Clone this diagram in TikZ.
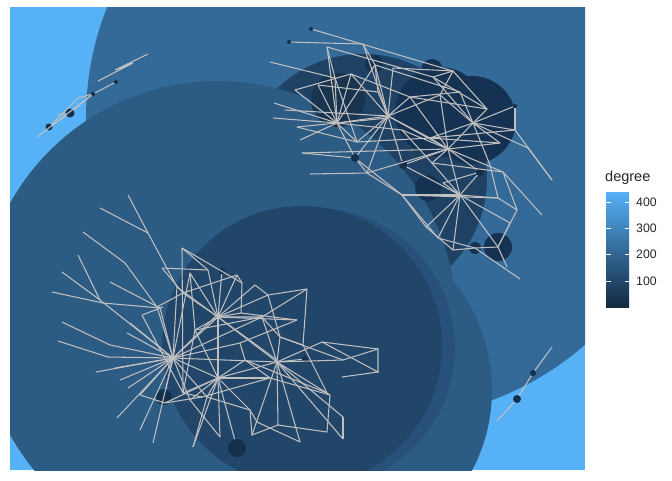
\documentclass[tikz,border=0pt]{standalone}
\usepackage{fontspec}
\setmainfont{Liberation Sans}
\definecolor{bgl}{HTML}{56B1F7}
\definecolor{cA}{HTML}{336A98}
\definecolor{cB}{HTML}{2C5B84}
\definecolor{cE}{HTML}{27507A}
\definecolor{cD}{HTML}{22466A}
\definecolor{cF}{HTML}{1F4163}
\definecolor{cG}{HTML}{163252}
\definecolor{cH}{HTML}{18344F}
\definecolor{cN}{HTML}{15304C}
\definecolor{cL}{HTML}{132B43}
\definecolor{edg}{HTML}{C0C0C0}
\tikzset{
  bignode/.style={fill=#1,draw=none},
  nd/.style={circle,fill=cN,draw=none,inner sep=0pt,minimum size=#1},
  ed/.style={draw=edg,line width=1.05pt},
  tickw/.style={draw=white,line width=0.8pt},
  lab/.style={anchor=west,font=\fontsize{12.3}{13}\selectfont,text=black!85,inner sep=0pt}
}
\begin{document}
\begin{tikzpicture}[x=1pt,y=-1pt]
\useasboundingbox (0,0) rectangle (672,480);
\fill[white] (0,0) rectangle (672,480);
\begin{scope}
\clip (10,7) rectangle (585,470);
\fill[bgl] (10,7) rectangle (585,470);
% large node discs
\fill[bignode=cA] (387,118) circle (301);
\fill[bignode=cF] (363,178) circle (124);
\fill[bignode=cB] (218,319) circle (238);
\fill[bignode=cB] (320,390) circle (172);
\fill[bignode=cE] (315,348) circle (140);
\fill[bignode=cD] (302,346) circle (140);
% upper cluster discs
\fill[bignode=cH] (338,100) circle (27);
\fill[bignode=cG] (440,112) circle (45);
\fill[bignode=cG] (472,120) circle (44);
\fill[bignode=cG] (432,70) circle (11);
\fill[bignode=cG] (374,64) circle (9);
\fill[bignode=cG] (428,188) circle (13);
\fill[bignode=cG] (498,247) circle (14);
\fill[bignode=cG] (475,248) circle (6);
\end{scope}
% small node dots
\node[nd=8pt] (n1) at (355,158) {};
\node[nd=8pt] (n2) at (403,165) {};
\node[nd=8pt] (n3) at (480,172) {};
\node[nd=4pt] (n4) at (515,106) {};
\node[nd=4pt] (a) at (311,29) {};
\node[nd=4pt] (b) at (289,42) {};
\node[nd=16pt] (n5) at (164,397) {};
\node[nd=18pt] (n6) at (237,448) {};
\node[nd=6pt] (n7) at (222,271) {};
\node[nd=6pt] (n8) at (305,359) {};
\node[nd=9pt] (s1) at (70,113) {};
\node[nd=7pt] (s2) at (49,127) {};
\node[nd=4pt] (s3) at (93,94) {};
\node[nd=4pt] (s4) at (116,82) {};
\node[nd=8pt] (r1) at (517,399) {};
\node[nd=6pt] (r2) at (533,373) {};
% coordinates: upper cluster
\coordinate (U1) at (337,123);
\coordinate (U2) at (388,116);
\coordinate (U3) at (473,123);
\coordinate (U4) at (448,149);
\coordinate (U5) at (460,195);
\coordinate (c) at (327,47);
\coordinate (d) at (363,44);
\coordinate (e) at (453,71);
\coordinate (f) at (433,77);
\coordinate (g) at (375,65);
\coordinate (h) at (351,74);
\coordinate (i) at (335,78);
\coordinate (j) at (295,90);
\coordinate (k) at (270,62);
\coordinate (l) at (274,103);
\coordinate (m) at (273,118);
\coordinate (n) at (297,127);
\coordinate (o) at (302,153);
\coordinate (p) at (310,174);
\coordinate (r) at (367,173);
\coordinate (s) at (402,195);
\coordinate (t) at (426,227);
\coordinate (u) at (438,238);
\coordinate (v) at (453,250);
\coordinate (y) at (510,223);
\coordinate (z) at (517,210);
\coordinate (aa) at (498,198);
\coordinate (ab) at (503,172);
\coordinate (ac) at (490,165);
\coordinate (ae) at (528,148);
\coordinate (af) at (552,180);
\coordinate (ag) at (542,215);
\coordinate (ai) at (515,130);
\coordinate (aj) at (500,143);
\coordinate (ak) at (487,109);
\coordinate (al) at (430,138);
\coordinate (am) at (432,163);
\coordinate (ao) at (357,142);
\coordinate (ap) at (393,68);
\coordinate (aq) at (410,97);
\coordinate (ar) at (440,95);
\coordinate (as) at (460,92);
\coordinate (at) at (507,267);
\coordinate (au) at (443,183);
\coordinate (w) at (498,247);
\coordinate (x) at (475,248);
\coordinate (q1) at (318,85);
\coordinate (q2) at (402,130);
\coordinate (q3) at (378,92);
\coordinate (q4) at (300,140);
\coordinate (q5) at (285,110);
% upper edges
\draw[ed] (a) -- (e);
\draw[ed] (b) -- (d) -- (U2);
\draw[ed] (c) -- (U1);
\draw[ed] (c) -- (f);
\draw[ed] (c) -- (i);
\draw[ed] (d) -- (g);
\draw[ed] (e) -- (f);
\draw[ed] (e) -- (ak);
\draw[ed] (e) -- (ar) -- (U4);
\draw[ed] (k) -- (i) -- (U1);
\draw[ed] (j) -- (h) -- (U2);
\draw[ed] (j) -- (U1);
\draw[ed] (l) -- (U1);
\draw[ed] (m) -- (U1);
\draw[ed] (n) -- (U1);
\draw[ed] (q4) -- (U1);
\draw[ed] (q5) -- (U2);
\draw[ed] (o) -- (U4);
\draw[ed] (p) -- (r) -- (s);
\draw[ed] (U1) -- (U2);
\draw[ed] (U1) -- ([yshift=-2]U2);
\draw[ed] (U1) -- (h);
\draw[ed] (U1) -- (g);
\draw[ed] (U1) -- (ao);
\draw[ed] (U1) -- (q1);
\draw[ed] (U1) -- (n1);
\draw[ed] (U1) -- (q2);
\draw[ed] (q1) -- (q3) -- (U2);
\draw[ed] (U2) -- (g);
\draw[ed] (U2) -- (ap);
\draw[ed] (U2) -- (aq);
\draw[ed] (U2) -- (ao);
\draw[ed] (U2) -- (n1);
\draw[ed] (U2) -- (n2);
\draw[ed] (U2) -- (al);
\draw[ed] (U2) -- (U4);
\draw[ed] (U2) -- (ar);
\draw[ed] (U2) -- (r);
\draw[ed] (ap) -- (e);
\draw[ed] (g) -- (q3);
\draw[ed] (g) -- (as);
\draw[ed] (h) -- (aq);
\draw[ed] (i) -- (ao);
\draw[ed] (aq) -- (as);
\draw[ed] (aq) -- (ak);
\draw[ed] (U3) -- (ak);
\draw[ed] (U3) -- (n4);
\draw[ed] (U3) -- (ai);
\draw[ed] (U3) -- (aj);
\draw[ed] (U3) -- (ae);
\draw[ed] (U3) -- (as);
\draw[ed] (U3) -- (ar);
\draw[ed] (U3) -- (U4);
\draw[ed] (U3) -- (ac);
\draw[ed] (U3) -- (f);
\draw[ed] (U3) -- (al);
\draw[ed] (al) -- (ai);
\draw[ed] (ao) -- (al);
\draw[ed] (al) -- (aj);
\draw[ed] (U4) -- (al);
\draw[ed] (U4) -- (am);
\draw[ed] (U4) -- (aq);
\draw[ed] (U4) -- (ab);
\draw[ed] (U4) -- (n3);
\draw[ed] (U4) -- (U5);
\draw[ed] (U4) -- (n2);
\draw[ed] (U4) -- (aj);
\draw[ed] (U4) -- (q2);
\draw[ed] (U4) -- (r);
\draw[ed] (U5) -- (s);
\draw[ed] (U5) -- (t);
\draw[ed] (U5) -- (u);
\draw[ed] (U5) -- (au);
\draw[ed] (U5) -- (aa);
\draw[ed] (U5) -- (y);
\draw[ed] (U5) -- (w);
\draw[ed] (U5) -- (v);
\draw[ed] (U5) -- (n3);
\draw[ed] (U5) -- (am);
\draw[ed] (s) -- (aa);
\draw[ed] (s) -- (t) -- (v);
\draw[ed] (s) -- (u) -- (x);
\draw[ed] (n1) -- (s);
\draw[ed] (n2) -- (U5);
\draw[ed] (q2) -- (am) -- (ab);
\draw[ed] (au) -- (n3);
\draw[ed] (ae) -- (af);
\draw[ed] (ai) -- (af);
\draw[ed] (ab) -- (ag);
\draw[ed] (n4) -- (ai);
\draw[ed] (w) -- (x);
\draw[ed] (w) -- (at);
\draw[ed] (w) -- (y);
\draw[ed] (x) -- (v);
\draw[ed] (w) -- (z) -- (ab);
\draw[ed] (aa) -- (z);
\draw[ed] (ac) -- (aa);
\draw[ed] (o) -- (n1) -- (r);
\draw[ed] (n) -- (ao);
\draw[ed] (f) -- (ak);
% lower cluster
\coordinate (H1) at (173,358);
\coordinate (H2) at (218,317);
\coordinate (H3) at (218,378);
\coordinate (H4) at (277,362);
\coordinate (L1) at (58,341);
\coordinate (L2) at (108,357);
\coordinate (L3) at (62,322);
\coordinate (L4) at (110,345);
\coordinate (L5) at (52,292);
\coordinate (L6) at (103,303);
\coordinate (L7) at (160,308);
\coordinate (L8) at (62,272);
\coordinate (L9) at (100,300);
\coordinate (L10) at (78,255);
\coordinate (L11) at (83,232);
\coordinate (L12) at (125,263);
\coordinate (L13) at (157,307);
\coordinate (L14) at (100,208);
\coordinate (L15) at (148,233);
\coordinate (L16) at (128,195);
\coordinate (L17) at (177,287);
\coordinate (L18) at (110,282);
\coordinate (L19) at (162,268);
\coordinate (L20) at (183,293);
\coordinate (L21) at (117,418);
\coordinate (L22) at (153,443);
\coordinate (L23) at (193,447);
\coordinate (L24) at (207,397);
\coordinate (L25) at (115,368);
\coordinate (L26) at (120,380);
\coordinate (L27) at (128,388);
\coordinate (L28) at (127,333);
\coordinate (L29) at (130,323);
\coordinate (L30) at (140,395);
\coordinate (L31) at (165,403);
\coordinate (L32) at (182,248);
\coordinate (L33) at (242,283);
\coordinate (L34) at (241,313);
\coordinate (L35) at (183,393);
\coordinate (L36) at (96,372);
\coordinate (L37) at (140,430);
\coordinate (M1) at (255,285);
\coordinate (M2) at (268,295);
\coordinate (M3) at (237,275);
\coordinate (M4) at (208,270);
\coordinate (M5) at (190,273);
\coordinate (M6) at (262,317);
\coordinate (M7) at (297,320);
\coordinate (M8) at (307,289);
\coordinate (M9) at (220,437);
\coordinate (M10) at (270,378);
\coordinate (M11) at (250,410);
\coordinate (M12) at (190,400);
\coordinate (P1) at (343,360);
\coordinate (P2) at (322,342);
\coordinate (P3) at (378,349);
\coordinate (P4) at (343,417);
\coordinate (P5) at (343,439);
\coordinate (P6) at (330,395);
\coordinate (P7) at (300,442);
\coordinate (P8) at (278,425);
\coordinate (P9) at (252,435);
\coordinate (P10) at (378,372);
\coordinate (P11) at (342,377);
\coordinate (P12) at (327,432);
\coordinate (P13) at (280,337);
\coordinate (P14) at (303,345);
\coordinate (P15) at (327,393);
\coordinate (P16) at (257,422);
\coordinate (P17) at (142,315);
\coordinate (P18) at (163,307);
\coordinate (P19) at (202,397);
\coordinate (P20) at (240,343);
\coordinate (P21) at (195,330);
\coordinate (P22) at (245,360);
\draw[ed] (L1) -- (L2) -- (H1);
\draw[ed] (L3) -- (L4) -- (H1);
\draw[ed] (L5) -- (L6) -- (L7);
\draw[ed] (L8) -- (L9);
\draw[ed] (L10) -- (L9) -- (H1);
\draw[ed] (L11) -- (L12) -- (L13) -- (H1);
\draw[ed] (L14) -- (L15);
\draw[ed] (L16) -- (L15) -- (L17) -- (H1);
\draw[ed] (L18) -- (L7) -- (H1);
\draw[ed] (L19) -- (L20) -- (H2);
\draw[ed] (L21) -- (H1);
\draw[ed] (L22) -- (H1);
\draw[ed] (L23) -- (L24);
\draw[ed] (L25) -- (H1);
\draw[ed] (L26) -- (H1);
\draw[ed] (L27) -- (H1);
\draw[ed] (L28) -- (H1);
\draw[ed] (L29) -- (H1);
\draw[ed] (L36) -- (H1);
\draw[ed] (L37) -- (H1);
\draw[ed] (L30) -- (H1);
\draw[ed] (L30) -- (L31) -- (P19);
\draw[ed] (L31) -- (H3);
\draw[ed] (L32) -- (L33) -- (L34);
\draw[ed] (L32) -- (L35);
\draw[ed] (L32) -- (M4);
\draw[ed] (L20) -- (M3);
\draw[ed] (L13) -- (L20);
\draw[ed] (L19) -- (M4);
\draw[ed] (n5) -- (H1);
\draw[ed] (H1) -- (H2);
\draw[ed] (H1) -- ([yshift=3]H2);
\draw[ed] (H1) -- (H3);
\draw[ed] (H1) -- (H4);
\draw[ed] (H1) -- (M6);
\draw[ed] (H1) -- (M5);
\draw[ed] (H1) -- (M12);
\draw[ed] (H1) -- (P20);
\draw[ed] (H1) -- (L24);
\draw[ed] (H2) -- (H3);
\draw[ed] (H2) -- (H4);
\draw[ed] (H2) -- ([yshift=2]H4);
\draw[ed] (H3) -- (H4);
\draw[ed] (H2) -- (M1);
\draw[ed] (H2) -- (M2);
\draw[ed] (H2) -- (M3);
\draw[ed] (H2) -- (M4);
\draw[ed] (H2) -- (M5);
\draw[ed] (H2) -- (L17);
\draw[ed] (H2) -- (M6) -- (M8);
\draw[ed] (H2) -- (M7);
\draw[ed] (H2) -- (n7);
\draw[ed] (H2) -- (P21);
\draw[ed] (H2) -- (L34);
\draw[ed] (H3) -- (M9);
\draw[ed] (H3) -- (L24);
\draw[ed] (H3) -- (n6);
\draw[ed] (H3) -- (M10);
\draw[ed] (H3) -- (M11);
\draw[ed] (H3) -- (M12);
\draw[ed] (H3) -- (L23);
\draw[ed] (H3) -- (P21);
\draw[ed] (H3) -- (P22);
\draw[ed] (H3) -- (L35);
\draw[ed] (H4) -- (P1);
\draw[ed] (H4) -- (P2) -- (P3);
\draw[ed] (H4) -- (P4);
\draw[ed] (H4) -- (P5);
\draw[ed] (H4) -- (P6);
\draw[ed] (H4) -- (P7);
\draw[ed] (H4) -- (P8);
\draw[ed] (H4) -- (P9);
\draw[ed] (H4) -- (P13);
\draw[ed] (H4) -- (M6);
\draw[ed] (H4) -- (n8);
\draw[ed] (M5) -- (P21) -- (M6);
\draw[ed] (P21) -- (L35);
\draw[ed] (L34) -- (M7);
\draw[ed] (M6) -- (P13) -- (P14);
\draw[ed] (P14) -- (M8);
\draw[ed] (P20) -- (P22) -- (M10) -- (P6);
\draw[ed] (M12) -- (M9);
\draw[ed] (L24) -- (M11) -- (P9) -- (P8);
\draw[ed] (P17) -- (L35);
\draw[ed] (M1) -- (M2) -- (M8);
\draw[ed] (P19) -- (M10);
\draw[ed] (P4) -- (P5);
\draw[ed] (P1) -- (P3) -- (P10);
\draw[ed] (P11) -- (P10) -- (P2);
\draw[ed] (P12) -- (P6);
\draw[ed] (P14) -- (P15);
\draw[ed] (P16) -- (P7);
\draw[ed] (P8) -- (P12);
\draw[ed] (P13) -- (P1);
\draw[ed] (P17) -- (P18);
\draw[ed] (M2) -- (P13);
\draw[ed] (M3) -- (L33);
\draw[ed] (P20) -- (M7);
\draw[ed] (P22) -- (P15);
\draw[ed] (M11) -- (P16);
\draw[ed] (L35) -- (P19);
% small components
\coordinate (t1) at (37,137);
\coordinate (t2) at (78,98);
\coordinate (t3) at (57,115);
\coordinate (t4) at (98,81);
\coordinate (t5) at (133,63);
\coordinate (t6) at (115,70);
\coordinate (t7) at (148,54);
\draw[ed] (t1) -- (s3);
\draw[ed] (s2) -- (t2) -- (s3);
\draw[ed] (t3) -- (s1) -- (s3);
\draw[ed] (s2) -- (s1);
\draw[ed] (s3) -- (s4);
\draw[ed] (t4) -- (t5) -- (t6) -- (t7);
\coordinate (t8) at (497,421);
\coordinate (t9) at (552,347);
\draw[ed] (t8) -- (r1) -- (r2) -- (t9);
\coordinate (t10) at (520,279);
\draw[ed] (x) -- (t10);
% legend
\node[anchor=west,inner sep=0pt,font=\fontsize{14.5}{15}\selectfont,text=black!85] (ttl) at (605,178) {degree};
\shade[top color=bgl,bottom color=cL,middle color=cA] (606,192) rectangle (629,307);
\foreach \yy/\lbl in {202/400,228/300,254/200,281/100}{
  \draw[tickw] (606,\yy) -- (610.5,\yy);
  \draw[tickw] (624.5,\yy) -- (629,\yy);
  \node[lab] at (636,\yy) {\lbl};
}
\end{tikzpicture}
\end{document}
